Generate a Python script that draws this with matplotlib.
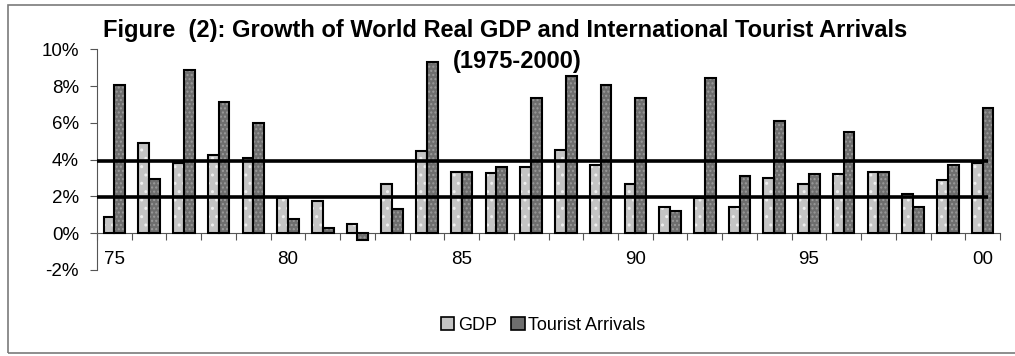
import matplotlib
matplotlib.use("Agg")
import matplotlib.pyplot as plt
from matplotlib.patches import Patch, Rectangle
import numpy as np

plt.rcParams['font.family'] = ['Liberation Sans', 'DejaVu Sans']
plt.rcParams['hatch.linewidth'] = 1.0

years = ['75', '76', '77', '78', '79', '80', '81', '82', '83', '84', '85', '86', '87',
         '88', '89', '90', '91', '92', '93', '94', '95', '96', '97', '98', '99', '00']
tick_labels = ['75', '', '', '', '', '80', '', '', '', '', '85', '', '', '', '', '90',
               '', '', '', '', '95', '', '', '', '', '00']
gdp = [0.9, 4.9, 3.8, 4.25, 4.1, 1.9, 1.75, 0.5, 2.7, 4.45, 3.35, 3.3, 3.6,
       4.55, 3.7, 2.7, 1.4, 1.9, 1.45, 3.0, 2.7, 3.2, 3.35, 2.15, 2.9, 3.8]
tourist = [8.05, 2.95, 8.9, 7.15, 6.0, 0.8, 0.3, -0.35, 1.3, 9.3, 3.35, 3.6, 7.35,
           8.55, 8.05, 7.35, 1.2, 8.45, 3.1, 6.1, 3.2, 5.5, 3.35, 1.45, 3.7, 6.8]
ref_lines = [3.9, 1.95]

fig = plt.figure(figsize=(10.15, 3.56), dpi=100)
# outer figure border
fig.patches.append(Rectangle((8 / 1015, 3 / 356), 1.2, (348) / 356, transform=fig.transFigure,
                             fill=False, edgecolor='#7a7a7a', linewidth=1.2, zorder=0))

ax = fig.add_axes([97 / 1015, 86 / 356, 903 / 1015, 220.7 / 356])

x = np.arange(len(years)) + 0.5
w = 0.31
gdp_face, gdp_hatch = '#c4c4c4', '#efefef'
ta_face, ta_hatch = '#6e6e6e', '#9a9a9a'

ax.bar(x - w / 2, gdp, w, color=gdp_face, hatch='..', edgecolor=gdp_hatch, linewidth=0, zorder=2)
ax.bar(x - w / 2, gdp, w, fill=False, edgecolor='black', linewidth=1.5, zorder=3)
ax.bar(x + w / 2, tourist, w, color=ta_face, hatch='....', edgecolor=ta_hatch, linewidth=0, zorder=2)
ax.bar(x + w / 2, tourist, w, fill=False, edgecolor='black', linewidth=1.5, zorder=3)

for v in ref_lines:
    ax.plot([0, 25.65], [v, v], color='black', linewidth=2.6, zorder=4, solid_capstyle='butt')

ax.set_xlim(0, 26)
ax.set_ylim(-2, 10)
ax.set_yticks(np.arange(-2, 11, 2))
ax.set_yticklabels([f'{int(t)}%' for t in np.arange(-2, 11, 2)])
ax.tick_params(axis='y', length=5, width=0.8, color='#555555', pad=8, labelsize=13.5)

ax.set_xticks(np.arange(0, 27, 1))
ax.set_xticklabels([])
ax.tick_params(axis='x', which='major', direction='out', length=5, width=0.8, color='#555555')
ax.set_xticks(x, minor=True)
ax.set_xticklabels(tick_labels, minor=True)
ax.tick_params(axis='x', which='minor', length=0, pad=13, labelsize=13.5)

ax.spines['bottom'].set_position(('data', 0))
for s in ['top', 'right']:
    ax.spines[s].set_visible(False)
for s in ['left', 'bottom']:
    ax.spines[s].set_color('#555555')
    ax.spines[s].set_linewidth(0.8)

fig.text(0.498, 0.914, 'Figure  (2): Growth of World Real GDP and International Tourist Arrivals',
         ha='center', va='center', fontsize=17, fontweight='bold')
fig.text(0.51, 0.826, '(1975-2000)', ha='center', va='center', fontsize=17, fontweight='bold')

handles = [Patch(facecolor=gdp_face, edgecolor='black', linewidth=1.2),
           Patch(facecolor=ta_face, edgecolor='black', linewidth=1.2)]
fig.legend(handles, ['GDP', 'Tourist Arrivals'], loc='center', bbox_to_anchor=(0.535, 0.087),
           ncol=2, frameon=False, fontsize=13, handlelength=0.75, handleheight=0.75,
           handletextpad=0.2, columnspacing=0.8)

fig.savefig('out.png', dpi=100)
